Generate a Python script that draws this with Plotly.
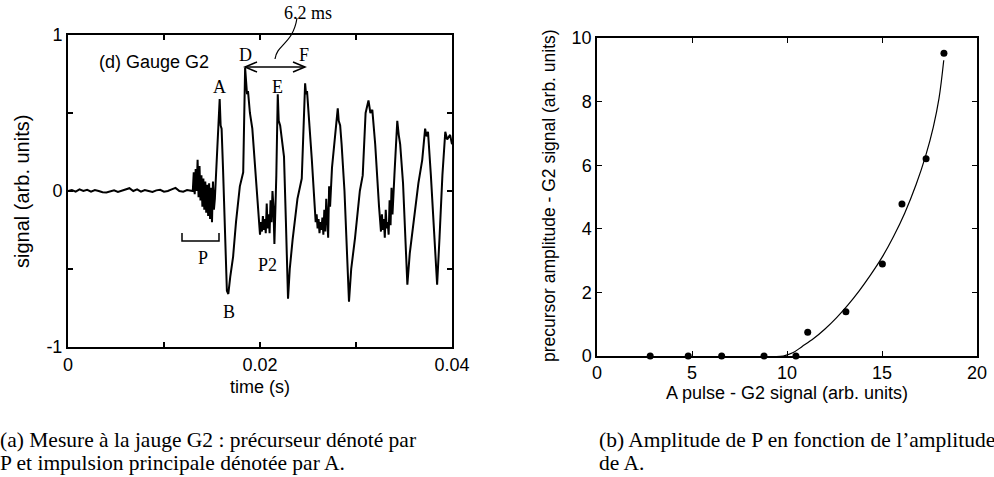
import plotly.graph_objects as go

# ---------------- Left panel: gauge G2 signal (time in ms, signal arb. units)
baseline_t = [0.0, 0.4, 0.8, 1.2, 1.6, 2.0, 2.4, 2.8, 3.2, 3.6, 4.0, 4.4, 4.8, 5.2, 5.6, 6.0,
              6.4, 6.8, 7.2, 7.6, 8.0, 8.4, 8.8, 9.2, 9.6, 10.0, 10.4, 10.8, 11.2, 11.6, 12.0,
              12.4, 12.8]
baseline_v = [0.0, 0.006, -0.004, 0.01, 0.0, 0.008, -0.004, 0.006, 0.0, -0.008, -0.01, -0.004,
              0.004, -0.006, 0.002, 0.006, 0.018, 0.0, 0.01, -0.004, 0.006, 0.0, -0.006, 0.004,
              0.008, -0.004, 0.0, 0.01, 0.02, 0.0, -0.004, 0.006, 0.002]

precursor_t = [13.0, 13.1, 13.2, 13.3, 13.4, 13.5, 13.6, 13.7, 13.8, 13.9, 14.0, 14.1, 14.2,
               14.3, 14.4, 14.5, 14.6, 14.7, 14.8, 14.9, 15.0, 15.1, 15.2, 15.3]
precursor_v = [0.0, 0.12, -0.02, 0.14, 0.0, 0.2, -0.04, 0.16, -0.06, 0.1, -0.1, 0.08, -0.12,
               0.06, -0.14, 0.04, -0.16, 0.05, -0.18, 0.02, -0.2, 0.06, -0.12, -0.05]

pulse1_t = [15.5, 15.8, 15.9, 16.0, 16.15, 16.45, 16.55, 16.7, 16.8, 16.9, 17.2, 17.5, 17.9,
            18.25, 18.45, 18.55, 18.65, 18.75, 18.95, 19.2, 19.5, 19.7]
pulse1_v = [0.25, 0.59, 0.42, 0.4, 0.14, -0.55, -0.64, -0.66, -0.62, -0.55, -0.42, -0.2, 0.03,
            0.12, 0.79, 0.7, 0.62, 0.64, 0.5, 0.4, 0.15, -0.05]

p2_t = [19.9, 20.0, 20.1, 20.2, 20.3, 20.4, 20.5, 20.6, 20.7, 20.8, 20.9, 21.0, 21.1, 21.2,
        21.3, 21.4, 21.5]
p2_v = [-0.18, -0.28, -0.2, -0.26, -0.16, -0.25, -0.18, -0.27, -0.08, -0.24, -0.15, -0.27,
        -0.06, -0.2, 0.0, -0.1, -0.34]

pulse2_t = [21.7, 21.85, 21.95, 22.1, 22.3, 22.5, 22.7, 22.92, 23.1, 23.4, 23.9, 24.35, 24.7,
            24.8, 24.9, 25.2, 25.4, 25.7]
pulse2_v = [0.1, 0.62, 0.45, 0.42, 0.3, 0.22, -0.2, -0.69, -0.5, -0.31, -0.05, 0.08, 0.69,
            0.62, 0.64, 0.4, 0.2, -0.1]

p3_t = [25.8, 25.9, 26.0, 26.1, 26.2, 26.3, 26.4, 26.5, 26.6, 26.7, 26.8, 26.9, 27.0, 27.1,
        27.2, 27.3]
p3_v = [-0.2, -0.15, -0.24, -0.18, -0.27, -0.2, -0.25, -0.17, -0.28, -0.12, -0.26, -0.05,
        -0.22, -0.3, 0.03, -0.1]

pulse3_t = [27.5, 27.8, 28.1, 28.2, 28.35, 28.5, 28.8, 29.27, 29.5, 29.9, 30.4, 30.7, 31.0,
            31.3, 31.5, 31.7, 32.0, 32.4]
pulse3_v = [0.15, 0.35, 0.53, 0.45, 0.42, 0.3, 0.0, -0.71, -0.5, -0.3, 0.0, 0.1, 0.5, 0.58,
            0.5, 0.52, 0.3, -0.1]

p4_t = [32.5, 32.6, 32.7, 32.8, 32.9, 33.0, 33.1, 33.2, 33.3, 33.4, 33.5, 33.6, 33.7, 33.8]
p4_v = [-0.2, -0.26, -0.15, -0.25, -0.18, -0.3, -0.12, -0.24, -0.2, -0.28, -0.06, -0.22,
        0.02, -0.15]

pulse4_t = [34.0, 34.3, 34.45, 34.6, 34.9, 35.35, 35.6, 36.0, 36.5, 36.9, 37.2, 37.35, 37.5,
            37.8, 38.1, 38.45, 38.7, 39.0, 39.3, 39.5, 39.8, 40.0]
pulse4_v = [0.1, 0.45, 0.36, 0.3, 0.05, -0.6, -0.4, -0.2, 0.05, 0.2, 0.4, 0.35, 0.38, 0.1,
            -0.2, -0.6, -0.3, 0.1, 0.38, 0.33, 0.36, 0.3]

time_ms = (baseline_t + precursor_t + pulse1_t + p2_t + pulse2_t + p3_t + pulse3_t + p4_t
           + pulse4_t)
signal = (baseline_v + precursor_v + pulse1_v + p2_v + pulse2_v + p3_v + pulse3_v + p4_v
          + pulse4_v)
time_s = [t / 1000.0 for t in time_ms]

left_xticks = [0, 0.01, 0.02, 0.03, 0.04]
left_xlabels = ["0", "", "0.02", "", "0.04"]
left_yticks = [-1, -0.5, 0, 0.5, 1]
left_ylabels = ["-1", "", "0", "", "1"]

# ---------------- Right panel: precursor amplitude vs A pulse amplitude
a_pulse = [2.8, 4.8, 6.56, 8.79, 10.47, 11.09, 13.1, 15.02, 16.05, 17.32, 18.26]
precursor_amp = [0, 0, 0, 0, 0, 0.75, 1.39, 2.89, 4.78, 6.2, 9.52]
fit_x = [7.7, 8.5, 9.3, 9.8, 10.3, 10.8, 11.4, 12.0, 12.6, 13.2, 13.8, 14.4, 15.0, 15.6, 16.2,
         16.8, 17.3, 17.7, 18.0, 18.25]
fit_y = [-0.03, -0.03, -0.02, 0.0, 0.1, 0.3, 0.55, 0.85, 1.2, 1.6, 2.05, 2.55, 3.1, 3.75, 4.5,
         5.4, 6.3, 7.2, 8.1, 9.3]
right_xticks = [0, 5, 10, 15, 20]
right_yticks = [0, 2, 4, 6, 8, 10]

W, H = 994, 477
SANS = "Liberation Sans, Arial, sans-serif"
SERIF = "Liberation Serif, Times New Roman, serif"


def px(x):
    return x / W


def py(y):
    return 1 - y / H


fig = go.Figure()
fig.add_trace(go.Scatter(x=time_s, y=signal, mode="lines", xaxis="x", yaxis="y",
                         line=dict(color="black", width=2), showlegend=False))
fig.add_trace(go.Scatter(x=fit_x, y=fit_y, mode="lines", xaxis="x2", yaxis="y2",
                         line=dict(color="black", width=1.2, shape="spline"),
                         showlegend=False, cliponaxis=False))
fig.add_trace(go.Scatter(x=a_pulse, y=precursor_amp, mode="markers", xaxis="x2", yaxis="y2",
                         marker=dict(color="black", size=7), showlegend=False,
                         cliponaxis=False))

axis_common = dict(showline=True, linecolor="black", mirror="ticks", ticks="inside",
                   ticklen=5, tickcolor="black", showgrid=False, zeroline=False,
                   automargin=False,
                   tickfont=dict(family=SANS, size=18, color="black"))

fig.update_layout(
    template="none",
    width=W, height=H, autosize=False,
    margin=dict(l=0, r=0, t=0, b=0, pad=0, autoexpand=False),
    paper_bgcolor="white", plot_bgcolor="white",
    xaxis=dict(domain=[px(68), px(452)], range=[0, 0.04], tickvals=left_xticks,
               ticktext=left_xlabels, linewidth=2, tickwidth=1.5, anchor="y", **axis_common),
    yaxis=dict(domain=[py(347), py(35)], range=[-1, 1], tickvals=left_yticks,
               ticktext=left_ylabels, linewidth=2, tickwidth=1.5, anchor="x", **axis_common),
    xaxis2=dict(domain=[px(597), px(977)], range=[0, 20], tickvals=right_xticks,
                linewidth=1.5, tickwidth=1.2, anchor="y2", **axis_common),
    yaxis2=dict(domain=[py(356), py(38)], range=[0, 10], tickvals=right_yticks,
                linewidth=1.5, tickwidth=1.2, anchor="x2", **axis_common),
)

ann = []


def text(x, y, s, size=18, family=SERIF, xanchor="center", angle=0):
    ann.append(dict(x=px(x), y=py(y), xref="paper", yref="paper", text=s, showarrow=False,
                    xanchor=xanchor, yanchor="middle", textangle=angle,
                    font=dict(family=family, size=size, color="black")))


# axis titles
text(260, 387, "time (s)", size=18, family=SANS)
text(22, 192, "signal (arb. units)", size=20, family=SANS, angle=-90)
text(787, 393, "A pulse - G2 signal (arb. units)", size=18, family=SANS)
text(549, 196, "precursor amplitude - G2 signal (arb. units)", size=17.5, family=SANS, angle=-90)

# panel annotations
text(97, 62, "(d) Gauge G2", size=18, family=SANS, xanchor="left")
text(219, 87, "A")
text(245, 55, "D")
text(277, 87, "E")
text(304, 55, "F")
text(229, 312, "B")
text(203, 258, "P")
text(267, 265, "P2")
text(308, 13, "6.2 ms")

# captions
text(-2, 440, "(a) Mesure à la jauge G2 : précurseur dénoté par", size=21.5, xanchor="left")
text(-2, 463, "P et impulsion principale dénotée par A.", size=21.5, xanchor="left")
text(597, 440, "(b) Amplitude de P en fonction de l’amplitude", size=21.5, xanchor="left")
text(597, 463, "de A.", size=21.5, xanchor="left")

fig.update_layout(annotations=ann)


def P(x, y):
    return f"{px(x):.5f},{py(y):.5f}"


shapes = []
line_style = dict(color="black", width=1.5)
# double arrow D <-> F
shapes.append(dict(type="path", xref="paper", yref="paper", line=line_style,
                   path=f"M{P(245,67)} L{P(305,67)}"))
shapes.append(dict(type="path", xref="paper", yref="paper", line=line_style,
                   path=f"M{P(257,62)} L{P(245,67)} L{P(257,72)}"))
shapes.append(dict(type="path", xref="paper", yref="paper", line=line_style,
                   path=f"M{P(293,62)} L{P(305,67)} L{P(293,72)}"))
# leader to 6.2 ms label
shapes.append(dict(type="path", xref="paper", yref="paper", line=dict(color="black", width=1.2),
                   path=f"M{P(275,59)} C{P(277,44)} {P(293,44)} {P(297,18)}"))
# P bracket
shapes.append(dict(type="path", xref="paper", yref="paper", line=line_style,
                   path=f"M{P(182,233)} L{P(182,241)} L{P(219,241)} L{P(219,233)}"))
fig.update_layout(shapes=shapes)

fig.write_html("out.html", config={"displayModeBar": False},
               post_script="document.body.style.margin='0';")
